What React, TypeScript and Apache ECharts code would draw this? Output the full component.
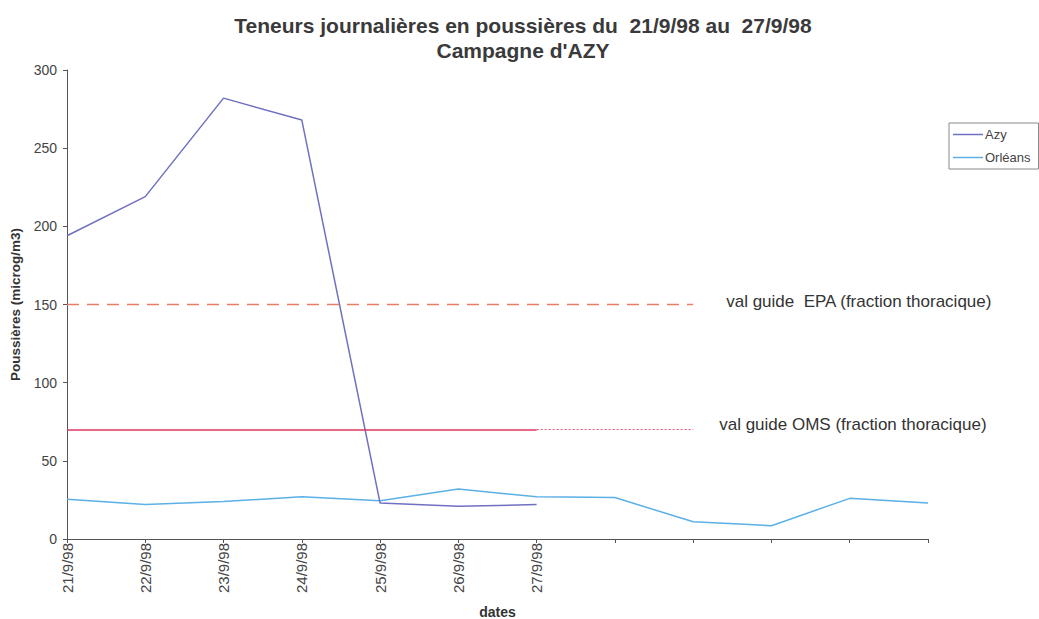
import React, { useEffect, useRef } from "react";
import * as echarts from "echarts";

const categories = ["21/9/98", "22/9/98", "23/9/98", "24/9/98", "25/9/98", "26/9/98", "27/9/98", "", "", "", "", ""];
const azy = [194, 219, 282, 268, 23, 21, 22];
const orleans = [25.5, 22, 24, 27, 24.5, 32, 27, 26.5, 11, 8.5, 26, 23];
const epaGuide = 150;
const omsGuide = 70;
const guideEndIndex = 8;
const omsSolidEndIndex = 6;
const epaLabel = "val guide  EPA (fraction thoracique)";
const omsLabel = "val guide OMS (fraction thoracique)";
const yTicks = { min: 0, max: 300, interval: 50 };

const FONT = "Liberation Sans, Arial, sans-serif";

export default function App() {
  const ref = useRef<HTMLDivElement>(null);
  useEffect(() => {
    document.body.style.margin = "0";
    const chart = echarts.init(ref.current!, null, { renderer: "svg" });
    chart.setOption({
      animation: false,
      backgroundColor: "#ffffff",
      textStyle: { fontFamily: FONT },
      title: {
        text: "Teneurs journalières en poussières du  21/9/98 au  27/9/98\nCampagne d'AZY",
        left: 518,
        textAlign: "center",
        top: 8,
        textStyle: { fontFamily: FONT, fontSize: 21, fontWeight: "bold", color: "#3a3a3a", lineHeight: 25 },
      },
      legend: {
        left: 949,
        top: 123,
        orient: "vertical",
        borderColor: "#888",
        borderWidth: 1,
        padding: [5, 8, 5, 4],
        itemGap: 10,
        itemWidth: 30,
        itemHeight: 1.5,
        icon: "rect",
        textStyle: { fontFamily: FONT, fontSize: 13, color: "#444", padding: [0, 0, 0, -3] },
        data: ["Azy", "Orléans"],
      },
      grid: { left: 67, right: 111, top: 70, bottom: 80, containLabel: false, outerBoundsMode: "none" },
      xAxis: {
        type: "category",
        data: categories,
        boundaryGap: false,
        name: "dates",
        nameLocation: "middle",
        nameGap: 66,
        nameTextStyle: { fontFamily: FONT, fontSize: 14, fontWeight: "bold", color: "#333" },
        axisLine: { lineStyle: { color: "#555", width: 1 } },
        axisTick: { show: true, interval: 0, length: 4, lineStyle: { color: "#555" } },
        axisLabel: { rotate: 90, interval: 0, fontSize: 15, color: "#444", fontFamily: FONT, margin: 4 },
        splitLine: { show: false },
      },
      yAxis: {
        type: "value",
        min: yTicks.min,
        max: yTicks.max,
        interval: yTicks.interval,
        name: "Poussières (microg/m3)",
        nameLocation: "middle",
        nameGap: 40,
        nameTextStyle: { fontFamily: FONT, fontSize: 13.5, fontWeight: "bold", color: "#333" },
        axisLine: { show: true, lineStyle: { color: "#555", width: 1 } },
        axisTick: { show: true, length: 4, lineStyle: { color: "#555" } },
        axisLabel: { fontSize: 14, color: "#444", fontFamily: FONT, margin: 10 },
        splitLine: { show: false },
      },
      series: [
        {
          name: "Azy",
          type: "line",
          data: azy,
          symbol: "none",
          lineStyle: { color: "#7070c2", width: 1.5 },
          itemStyle: { color: "#7070c2" },
          z: 3,
          markLine: {
            silent: true,
            symbol: ["none", "none"],
            data: [
              [
                { coord: [0, epaGuide], lineStyle: { color: "#eb7d66", type: [12, 8], width: 1.3 } },
                { coord: [guideEndIndex, epaGuide] },
              ],
            ],
            label: {
              show: true,
              position: "end",
              distance: 33,
              formatter: epaLabel,
              fontFamily: FONT,
              fontSize: 17,
              color: "#333",
              offset: [0, -3],
            },
          },
        },
        {
          name: "Orléans",
          type: "line",
          data: orleans,
          symbol: "none",
          lineStyle: { color: "#5bb0e6", width: 1.5 },
          itemStyle: { color: "#5bb0e6" },
          z: 2,
          markLine: {
            silent: true,
            symbol: ["none", "none"],
            data: [
              [
                { coord: [0, omsGuide], lineStyle: { color: "#e0345c", type: "solid", width: 1.5 }, label: { show: false } },
                { coord: [omsSolidEndIndex, omsGuide] },
              ],
              [
                { coord: [omsSolidEndIndex, omsGuide], lineStyle: { color: "#e2506e", type: [2, 2], width: 1.2 } },
                { coord: [guideEndIndex, omsGuide] },
              ],
            ],
            label: {
              show: true,
              position: "end",
              distance: 26,
              formatter: omsLabel,
              fontFamily: FONT,
              fontSize: 17,
              color: "#333",
              offset: [0, -5],
            },
          },
        },
      ],
    });
    return () => chart.dispose();
  }, []);
  return <div ref={ref} style={{ width: 1039, height: 619 }} />;
}
